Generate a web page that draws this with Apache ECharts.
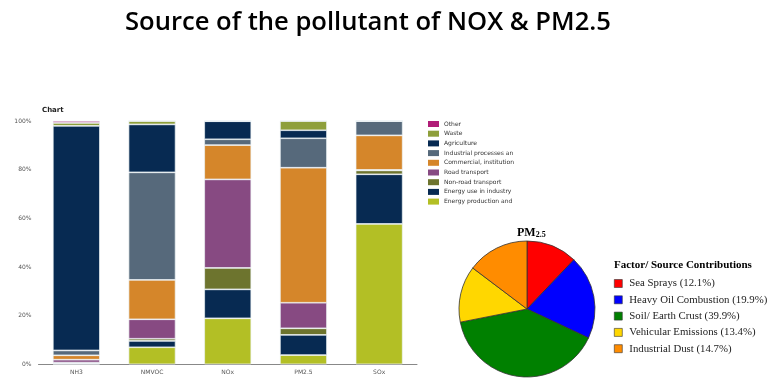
<!DOCTYPE html>
<html><head><meta charset="utf-8">
<script src="https://cdn.jsdelivr.net/npm/echarts@6/dist/echarts.min.js"></script>
<style>html,body{margin:0;padding:0;background:#fff}#c{width:779px;height:387px}</style>
</head><body><div id="c"></div>
<script>
const categories = ['NH3','NMVOC','NOx','PM2.5','SOx'];
const sectorNames = ['Energy production and distribution','Energy use in industry','Non-road transport','Road transport','Commercial, institutional and households','Industrial processes and product use','Agriculture','Waste','Other'];
const sectorColors = ['#b3bf25','#072a52','#6d742e','#874a82','#d5862a','#56697b','#072a52','#8e9f3b','#b01d78'];
const energyProduction = [0.2, 7.0, 18.9, 3.8, 57.7];
const energyIndustry   = [0.3, 2.6, 11.9, 8.3, 20.4];
const nonRoad          = [0.2, 0.9, 8.8, 2.7, 1.6];
const roadTransport    = [1.2, 8.0, 36.4, 10.5, 0.2];
const commercial       = [1.8, 16.2, 14.1, 55.5, 14.2];
const industrialProc   = [2.0, 44.2, 2.4, 12.1, 5.9];
const agriculture      = [92.3, 19.7, 7.4, 3.3, 0];
const waste            = [1.2, 1.4, 0.1, 3.8, 0];
const other            = [0.8, 0, 0, 0, 0];
const sectorValues = [energyProduction, energyIndustry, nonRoad, roadTransport, commercial, industrialProc, agriculture, waste, other];
const yTicks = [0,20,40,60,80,100];

const pieNames = ['Sea Sprays','Heavy Oil Combustion','Soil/ Earth Crust','Vehicular Emissions','Industrial Dust'];
const pieValues = [12.1, 19.9, 39.9, 13.4, 14.7];
const pieColors = ['#ff0000','#0000ff','#008000','#ffd700','#ff8c00'];

const chart = echarts.init(document.getElementById('c'));
const barSeries = sectorNames.map((n,i)=>({
  name:n, type:'bar', stack:'s', barWidth:47,
  data: sectorValues[i],
  itemStyle:{color:sectorColors[i], borderColor:'#eef3f6', borderWidth:0.7}
}));
const pieSeries = {
  type:'pie', center:[527,309], radius:68, startAngle:90, clockwise:true,
  label:{show:false}, labelLine:{show:false}, silent:true,
  data: pieNames.map((n,i)=>({name:n, value:pieValues[i], itemStyle:{color:pieColors[i], borderColor:'#333', borderWidth:0.8}}))
};
chart.setOption({
  animation:false,
  title:[
    {text:'Source of the pollutant of NOX & PM2.5', left:120, top:5,
     textStyle:{fontFamily:'Open Sans', fontSize:25.6, fontWeight:600, color:'#000'}},
    {text:'Chart', left:37, top:102, textStyle:{fontFamily:'DejaVu Sans', fontSize:7, fontWeight:'bold', color:'#222'}},
    {text:'{a|PM}{b|2.5}', left:512, top:222, textStyle:{rich:{
      a:{fontFamily:'Liberation Serif', fontSize:12, fontWeight:'bold', color:'#000', verticalAlign:'bottom'},
      b:{fontFamily:'Liberation Serif', fontSize:8, fontWeight:'bold', color:'#000', verticalAlign:'bottom', padding:[4,0,0,0]}}}},
    {text:'Factor/ Source Contributions', left:609, top:255, textStyle:{fontFamily:'Liberation Serif', fontSize:11, fontWeight:'bold', color:'#000'}}
  ],
  grid:{left:38.5, right:362, top:121, bottom:22.7},
  xAxis:{type:'category', data:categories,
    axisLine:{lineStyle:{color:'#888', width:1}}, axisTick:{show:false},
    axisLabel:{fontFamily:'DejaVu Sans', fontSize:6, color:'#555', margin:5}},
  yAxis:{type:'value', min:0, max:100, interval:20,
    axisLine:{show:false}, axisTick:{show:false}, splitLine:{show:false},
    axisLabel:{formatter:'{value}%', fontFamily:'DejaVu Sans', fontSize:6, color:'#555', margin:7}},
  legend:[
    {orient:'vertical', left:423, top:116, itemWidth:11, itemHeight:6, itemGap:3.7, icon:'rect',
     data:sectorNames.slice().reverse(),
     textStyle:{fontFamily:'DejaVu Sans', fontSize:6, color:'#333', lineHeight:6, width:74, overflow:'truncate', ellipsis:''},
     itemStyle:{borderWidth:0}, selectedMode:false},
    {orient:'vertical', left:609, top:273, itemWidth:8, itemHeight:8, itemGap:5.3, icon:'rect',
     data:pieNames, selectedMode:false,
     itemStyle:{borderColor:'#333', borderWidth:0.6},
     formatter:n=>n+' ('+pieValues[pieNames.indexOf(n)].toFixed(1)+'%)',
     textStyle:{fontFamily:'Liberation Serif', fontSize:10.8, lineHeight:11, color:'#222', padding:[0,0,0,2]}}
  ],
  series: barSeries.concat([pieSeries])
});
</script></body></html>
